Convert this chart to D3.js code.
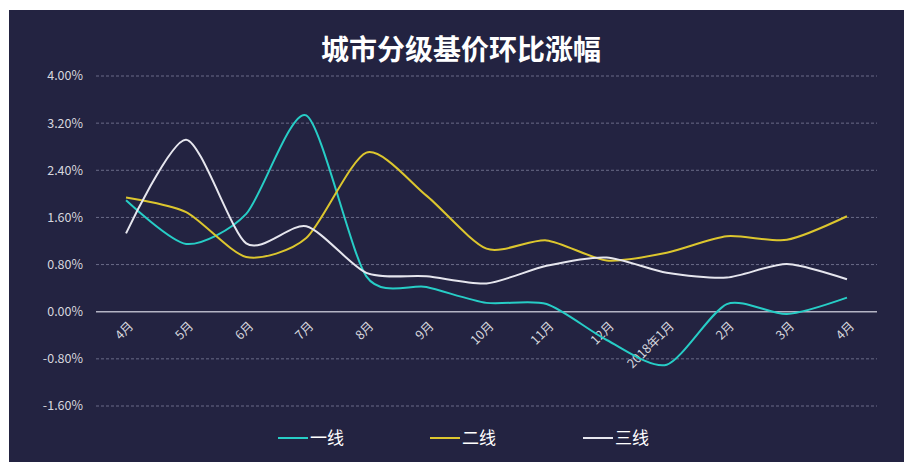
<!DOCTYPE html>
<html>
<head>
<meta charset="utf-8">
<script src="https://cdn.jsdelivr.net/npm/d3@7"></script>
<style>
  body { margin: 0; background: #fff; }
  svg { display: block; font-family: "Noto Sans CJK SC", "Noto Sans", sans-serif; }
</style>
</head>
<body>
<svg id="chart" width="904" height="462"></svg>
<script>
// categories (x axis)
var months = ['4月', '5月', '6月', '7月', '8月', '9月', '10月', '11月', '12月', '2018年1月', '2月', '3月', '4月']
// series values, percent
var tier1 = [1.89, 1.15, 1.66, 3.33, 0.60, 0.42, 0.15, 0.13, -0.48, -0.90, 0.13, -0.04, 0.24]
var tier2 = [1.94, 1.69, 0.93, 1.25, 2.70, 1.97, 1.07, 1.21, 0.87, 1.00, 1.28, 1.22, 1.62]
var tier3 = [1.33, 2.92, 1.16, 1.45, 0.66, 0.60, 0.48, 0.78, 0.92, 0.66, 0.58, 0.81, 0.55]
var seriesNames = ['一线', '二线', '三线']
var seriesColors = ['#27cdc6', '#dcc62e', '#e6e6ee']
// y ticks
var yTicks = [-1.6, -0.8, 0, 0.8, 1.6, 2.4, 3.2, 4.0]

var svg = d3.select('#chart')
var W = 904
var H = 462
var margin = {top: 76, right: 27, bottom: 56, left: 96}

// dark panel (picture has a white strip on left and top)
svg.append('rect')
  .attr('x', 9).attr('y', 10)
  .attr('width', W - 9).attr('height', H - 10)
  .attr('fill', '#232341')

// title
svg.append('text')
  .attr('x', 461).attr('y', 60)
  .attr('text-anchor', 'middle')
  .attr('fill', '#ffffff')
  .style('font-size', '28px')
  .style('font-weight', 'bold')
  .text('城市分级基价环比涨幅')

var x = d3.scaleBand().domain(d3.range(months.length)).range([margin.left, W - margin.right])
var y = d3.scaleLinear().domain([-1.6, 4.0]).range([406, margin.top])
var cx = (i) => x(i) + x.bandwidth() / 2

// grid lines (dashed) + zero line
svg.append('g')
  .selectAll('line')
  .data(yTicks.filter((t) => t !== 0))
  .enter()
  .append('line')
  .attr('x1', margin.left).attr('x2', W - margin.right)
  .attr('y1', (d) => y(d)).attr('y2', (d) => y(d))
  .attr('stroke', '#6a6b88')
  .attr('stroke-width', 1)
  .attr('stroke-dasharray', '3,2')

svg.append('line')
  .attr('x1', margin.left).attr('x2', W - margin.right)
  .attr('y1', y(0)).attr('y2', y(0))
  .attr('stroke', '#b4b4c4')
  .attr('stroke-width', 1.5)

// y axis labels
svg.append('g')
  .selectAll('text')
  .data(yTicks)
  .enter()
  .append('text')
  .attr('x', 83)
  .attr('y', (d) => y(d))
  .attr('dy', '0.35em')
  .attr('text-anchor', 'end')
  .attr('fill', '#d6d6de')
  .style('font-size', '12.5px')
  .text((d) => d.toFixed(2) + '%')

// x axis labels, rotated
svg.append('g')
  .selectAll('text')
  .data(months)
  .enter()
  .append('text')
  .attr('transform', (d, i) => 'translate(' + (cx(i) + 5) + ',' + (y(0) + 12) + ') rotate(-45)')
  .attr('text-anchor', 'end')
  .attr('dy', '0.35em')
  .attr('fill', '#d6d6de')
  .style('font-size', '12.5px')
  .text((d) => d)

// lines
var line = d3.line()
  .x((d, i) => cx(i))
  .y((d) => y(d))
  .curve(d3.curveCardinal.tension(0.25))

var allSeries = [tier1, tier2, tier3]
svg.append('g')
  .selectAll('path')
  .data(allSeries)
  .enter()
  .append('path')
  .attr('d', (d) => line(d))
  .attr('fill', 'none')
  .attr('stroke', (d, i) => seriesColors[i])
  .attr('stroke-width', 2)

// legend
var legendX = [278, 430, 583]
var legend = svg.append('g')
  .selectAll('g')
  .data(seriesNames)
  .enter()
  .append('g')
  .attr('transform', (d, i) => 'translate(' + legendX[i] + ',438)')
legend.append('line')
  .attr('x1', 0).attr('x2', 30)
  .attr('stroke', (d, i) => seriesColors[i])
  .attr('stroke-width', 2)
legend.append('text')
  .attr('x', 32)
  .attr('dy', '0.35em')
  .attr('fill', '#ffffff')
  .style('font-size', '17px')
  .text((d) => d)
</script>
</body>
</html>
